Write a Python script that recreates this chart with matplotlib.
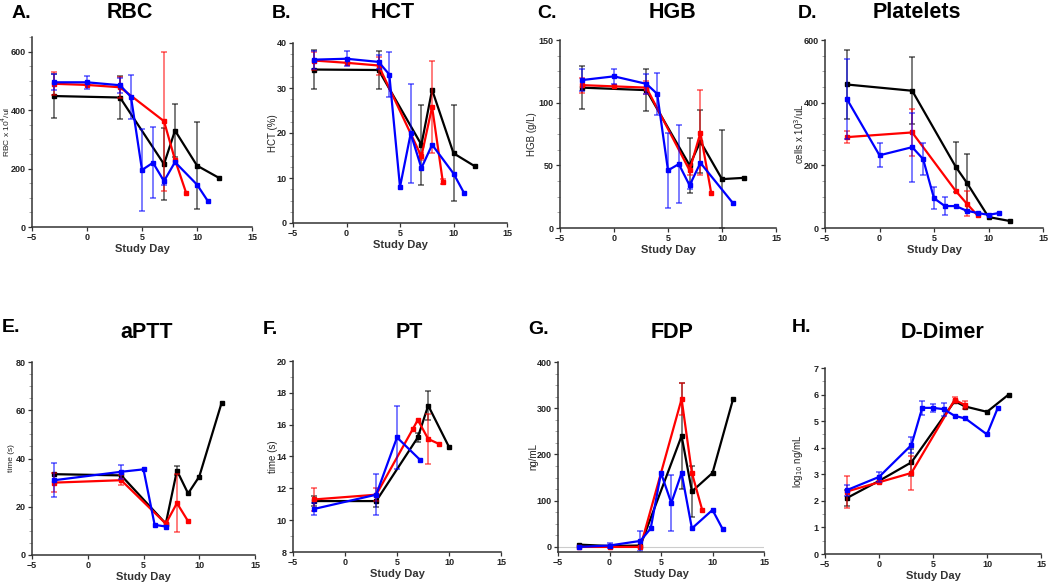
import matplotlib
matplotlib.use("Agg")
import matplotlib.pyplot as plt
from matplotlib.ticker import AutoMinorLocator
import numpy as np

plt.rcParams['font.family'] = ['Liberation Sans', 'DejaVu Sans']

# ---- data (Study Day, mean, SD) : k = black, r = red, b = blue ----
# A. RBC
rbc_k_day = [-3, 3, 7, 8, 10, 12]
rbc_k = [448, 443, 215, 330, 210, 168]
rbc_k_err = [75, 75, 122, 92, 150, 0]
rbc_r_day = [-3, 0, 3, 7, 8, 9]
rbc_r = [490, 486, 478, 362, 230, 118]
rbc_r_err = [40, 0, 35, 238, 0, 0]
rbc_b_day = [-3, 0, 3, 4, 5, 6, 7, 8, 10, 11]
rbc_b = [495, 495, 485, 445, 195, 220, 157, 222, 145, 88]
rbc_b_err = [28, 22, 25, 75, 140, 122, 12, 0, 0, 0]

# B. HCT
hct_k_day = [-3, 3, 7, 8, 10, 12]
hct_k = [34.1, 34.0, 17.4, 29.6, 15.5, 12.6]
hct_k_err = [4.3, 4.3, 8.9, 0, 10.7, 0]
hct_r_day = [-3, 0, 3, 7, 8, 9]
hct_r = [36.1, 35.6, 35.0, 14.8, 25.8, 9.2]
hct_r_err = [2.0, 0, 2.0, 0.8, 10.3, 0.5]
hct_b_day = [-3, 0, 3, 4, 5, 6, 7, 8, 10, 11]
hct_b = [36.3, 36.5, 35.8, 33.0, 8.0, 19.9, 12.2, 17.4, 11.0, 6.6]
hct_b_err = [2.0, 1.7, 1.5, 5.0, 0, 10.9, 0, 0, 0, 0]

# C. HGB
hgb_k_day = [-3, 3, 7, 8, 10, 12]
hgb_k = [112, 110, 50, 69, 39, 40]
hgb_k_err = [17, 17, 22, 25, 39, 0]
hgb_r_day = [-3, 0, 3, 7, 8, 9]
hgb_r = [114, 113, 112, 46, 76, 28]
hgb_r_err = [6, 0, 5, 4, 34, 0]
hgb_b_day = [-3, 0, 3, 4, 5, 6, 7, 8, 11]
hgb_b = [118, 121, 115, 107, 46, 51, 34, 52, 20]
hgb_b_err = [9, 6, 8, 17, 30, 31, 3, 0, 0]

# D. Platelets
plt_k_day = [-3, 3, 7, 8, 10, 12]
plt_k = [458, 438, 195, 145, 35, 22]
plt_k_err = [109, 107, 80, 90, 0, 0]
plt_r_day = [-3, 3, 7, 8, 9]
plt_r = [290, 305, 118, 78, 40]
plt_r_err = [20, 75, 0, 40, 0]
plt_b_day = [-3, 0, 3, 4, 5, 6, 7, 8, 9, 10, 11]
plt_b = [412, 232, 258, 220, 95, 70, 70, 55, 48, 42, 48]
plt_b_err = [128, 38, 110, 50, 35, 30, 0, 0, 0, 0, 0]

# E. aPTT
aptt_k_day = [-3, 3, 7, 8, 9, 10, 12]
aptt_k = [33.5, 33.0, 13.0, 35.0, 25.5, 32.5, 63.0]
aptt_k_err = [0, 0, 0, 2, 0, 0, 0]
aptt_r_day = [-3, 3, 7, 8, 9]
aptt_r = [30, 31, 13, 21.5, 14]
aptt_r_err = [4, 2, 1, 12, 0]
aptt_b_day = [-3, 3, 5, 6, 7]
aptt_b = [31, 34.5, 35.5, 12.5, 11.8]
aptt_b_err = [7, 3, 0, 0, 0]

# F. PT
pt_k_day = [-3, 3, 7, 8, 10]
pt_k = [11.2, 11.2, 15.2, 17.2, 14.6]
pt_k_err = [0.3, 0.4, 0.3, 0.9, 0]
pt_r_day = [-3, 3, 6.5, 7, 8, 9]
pt_r = [11.3, 11.6, 15.7, 16.3, 15.1, 14.8]
pt_r_err = [0.7, 0.4, 0, 0, 1.6, 0]
pt_b_day = [-3, 3, 5, 7.2]
pt_b = [10.7, 11.6, 15.2, 13.8]
pt_b_err = [0.4, 1.3, 2.0, 0]

# G. FDP
fdp_k_day = [-3, 0, 3, 7, 8, 10, 12]
fdp_k = [5, 2, 3, 240, 120, 160, 320]
fdp_k_err = [0, 0, 0, 115, 55, 0, 0]
fdp_r_day = [-3, 0, 3, 7, 8, 9]
fdp_r = [0, 0, 0, 320, 160, 80]
fdp_r_err = [0, 0, 0, 35, 0, 0]
fdp_b_day = [-3, 0, 3, 4, 5, 6, 7, 8, 10, 11]
fdp_b = [0, 3, 13, 40, 160, 95, 160, 40, 80, 38]
fdp_b_err = [0, 5, 22, 0, 0, 60, 0, 0, 0, 0]

# H. D-Dimer
dd_k_day = [-3, 0, 3, 7, 8, 10, 12]
dd_k = [2.1, 2.75, 3.45, 5.75, 5.55, 5.35, 6.0]
dd_k_err = [0.3, 0, 0.5, 0, 0, 0, 0]
dd_r_day = [-3, 0, 3, 7, 8]
dd_r = [2.35, 2.7, 3.05, 5.8, 5.6]
dd_r_err = [0.6, 0, 0.65, 0.1, 0.15]
dd_b_day = [-3, 0, 3, 4, 5, 6, 7, 8, 10, 11]
dd_b = [2.4, 2.9, 4.1, 5.5, 5.5, 5.45, 5.2, 5.1, 4.5, 5.5]
dd_b_err = [0.2, 0.2, 0.3, 0.25, 0.15, 0.25, 0, 0, 0, 0]

letters = ['A.', 'B.', 'C.', 'D.', 'E.', 'F.', 'G.', 'H.']
titles = ['RBC', 'HCT', 'HGB', 'Platelets', 'aPTT', 'PT', 'FDP', 'D-Dimer']
ylabels = ['RBC x 10$^4$/ul', 'HCT (%)', 'HGB (g/L)', 'cells x 10$^3$/uL',
           'time (s)', 'time (s)', 'ng/mL', 'log$_{10}$ ng/mL']

panels = [
    [(rbc_k_day, rbc_k, rbc_k_err), (rbc_r_day, rbc_r, rbc_r_err), (rbc_b_day, rbc_b, rbc_b_err)],
    [(hct_k_day, hct_k, hct_k_err), (hct_r_day, hct_r, hct_r_err), (hct_b_day, hct_b, hct_b_err)],
    [(hgb_k_day, hgb_k, hgb_k_err), (hgb_r_day, hgb_r, hgb_r_err), (hgb_b_day, hgb_b, hgb_b_err)],
    [(plt_k_day, plt_k, plt_k_err), (plt_r_day, plt_r, plt_r_err), (plt_b_day, plt_b, plt_b_err)],
    [(aptt_k_day, aptt_k, aptt_k_err), (aptt_r_day, aptt_r, aptt_r_err), (aptt_b_day, aptt_b, aptt_b_err)],
    [(pt_k_day, pt_k, pt_k_err), (pt_r_day, pt_r, pt_r_err), (pt_b_day, pt_b, pt_b_err)],
    [(fdp_k_day, fdp_k, fdp_k_err), (fdp_r_day, fdp_r, fdp_r_err), (fdp_b_day, fdp_b, fdp_b_err)],
    [(dd_k_day, dd_k, dd_k_err), (dd_r_day, dd_r, dd_r_err), (dd_b_day, dd_b, dd_b_err)],
]
colors = ['black', '#ff0000', '#0000ff']

# axes boxes in pixels: x_left, x_right, y_bottom, y_top (from top of image)
W, H = 1050, 584
boxes = [(32, 252, 227, 37), (293, 507, 223, 43), (560, 776, 228, 40), (825, 1043, 228, 40),
         (32, 255, 555, 362), (293, 501, 552, 361), (558, 764, 552, 362), (825, 1041, 554, 368)]
label_off = [20, 15, 23, 19, 17, 15, 20, 20]
label_size = [6, 7, 7, 7, 6, 7, 7, 7]
ylims = [(0, 650), (0, 40), (0, 150), (0, 600), (0, 80), (8, 20), (-11, 400), (0, 7)]
yticks = [[0, 200, 400, 600], [0, 10, 20, 30, 40], [0, 50, 100, 150], [0, 200, 400, 600],
          [0, 20, 40, 60, 80], [8, 10, 12, 14, 16, 18, 20], [0, 100, 200, 300, 400], list(range(8))]
title_pos = [(130, 13), (393, 13), (673, 13), (917, 13), (147, 333), (409, 332), (672, 333), (942, 333)]
letter_pos = [(12, 13), (272, 13), (537, 13), (798, 13), (2, 328), (263, 330), (528, 330), (792, 327)]

fig = plt.figure(figsize=(W / 100, H / 100), dpi=100)

for i in range(8):
    x0, x1, yb, yt = boxes[i]
    ax = fig.add_axes([x0 / W, (H - yb) / H, (x1 - x0) / W, (yb - yt) / H])
    if i == 6:
        ax.axhline(0, color='#cccccc', lw=0.8, zorder=0)
    for (day, val, err), c in zip(panels[i], colors):
        day = np.array(day, dtype=float)
        val = np.array(val, dtype=float)
        err = np.array(err, dtype=float)
        m = err > 0
        ax.errorbar(day[m], val[m], yerr=err[m], fmt='none', ecolor=c, elinewidth=1.1,
                    capsize=2, capthick=1.1, alpha=0.65)
        ax.plot(day, val, '-s', color=c, lw=1.6, ms=3)
    ax.set_xlim(-5, 15)
    ax.set_ylim(*ylims[i])
    ax.set_xticks([-5, 0, 5, 10, 15])
    ax.set_yticks(yticks[i])
    ax.yaxis.set_minor_locator(AutoMinorLocator(4 if i not in (5, 7) else 2))
    for s in ['top', 'right']:
        ax.spines[s].set_visible(False)
    for s in ['left', 'bottom']:
        ax.spines[s].set_linewidth(1.1)
        ax.spines[s].set_color('#333333')
    ax.tick_params(labelsize=6.5, length=3, width=0.9, pad=1.5, colors='#333333')
    ax.tick_params(which='minor', length=2, width=0.6, color='#999999')
    for lab in ax.get_xticklabels() + ax.get_yticklabels():
        lab.set_fontweight('bold')
        lab.set_color('#222222')
    ax.set_xlabel('Study Day', fontsize=8, fontweight='bold', labelpad=1, color='#333333')
    ax.set_ylabel(ylabels[i], fontsize=label_size[i], color='#222222')
    ax.yaxis.set_label_coords(-label_off[i] / (x1 - x0), 0.5)
    fig.text(title_pos[i][0] / W, 1 - title_pos[i][1] / H, titles[i], fontsize=15.5,
             fontweight='bold', ha='center', va='center')
    fig.text(letter_pos[i][0] / W, 1 - letter_pos[i][1] / H, letters[i], fontsize=14,
             fontweight='bold', ha='left', va='center')

fig.savefig('out.png', dpi=100)
